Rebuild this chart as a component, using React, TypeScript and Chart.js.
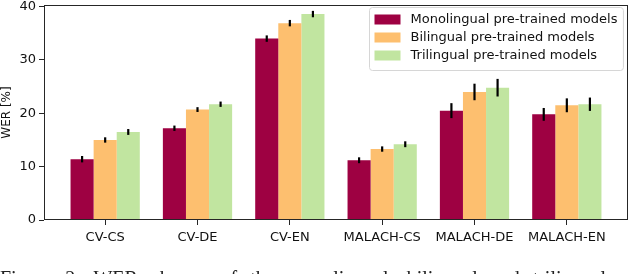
import React, { useEffect, useRef } from "react";
import { Chart, registerables } from "chart.js";

Chart.register(...registerables);

const categories = ["CV-CS", "CV-DE", "CV-EN", "MALACH-CS", "MALACH-DE", "MALACH-EN"];
const seriesLabels = [
  "Monolingual pre-trained models",
  "Bilingual pre-trained models",
  "Trilingual pre-trained models",
];
const monolingual = [11.4, 17.2, 34.0, 11.2, 20.5, 19.8];
const bilingual = [15.0, 20.7, 36.9, 13.3, 24.0, 21.5];
const trilingual = [16.5, 21.7, 38.6, 14.2, 24.8, 21.7];
const monolingualErr = [0.6, 0.5, 0.6, 0.55, 1.4, 1.2];
const bilingualErr = [0.5, 0.45, 0.6, 0.5, 1.55, 1.3];
const trilingualErr = [0.55, 0.5, 0.6, 0.55, 1.65, 1.25];
const yTicks = [0, 10, 20, 30, 40];
const yLabel = "WER [%]";
const caption = "Figure 2: WER change of the monolingual, bilingual and trilingual models";

const FONT = '"DejaVu Sans"';

const errorBarPlugin = {
  id: "errorBars",
  afterDatasetsDraw(chart: any) {
    const ctx = chart.ctx;
    const ys = chart.scales.y;
    chart.data.datasets.forEach((ds: any, di: number) => {
      const meta = chart.getDatasetMeta(di);
      meta.data.forEach((bar: any, i: number) => {
        const v = ds.data[i].y;
        const e = ds.errors[i];
        ctx.save();
        ctx.strokeStyle = "#000";
        ctx.lineWidth = 2.2;
        ctx.beginPath();
        ctx.moveTo(bar.x, ys.getPixelForValue(v - e));
        ctx.lineTo(bar.x, ys.getPixelForValue(v + e));
        ctx.stroke();
        ctx.restore();
      });
    });
  },
};

const framePlugin = {
  id: "frame",
  afterDatasetsDraw(chart: any) {
    const { left, right, top, bottom } = chart.chartArea;
    const ctx = chart.ctx;
    ctx.save();
    ctx.strokeStyle = "#262626";
    ctx.lineWidth = 1;
    const l = Math.round(left) + 0.5;
    const r = Math.round(right) - 0.5;
    const t = Math.round(top) + 0.5;
    const b = Math.round(bottom) - 0.5;
    ctx.strokeRect(l, t, r - l, b - t);
    ctx.restore();
  },
};

const legendPlugin = {
  id: "boxLegend",
  afterDraw(chart: any) {
    const ctx = chart.ctx;
    const { right, top } = chart.chartArea;
    ctx.save();
    ctx.font = `13px ${FONT}`;
    const datasets = chart.data.datasets;
    let maxW = 0;
    datasets.forEach((ds: any) => {
      maxW = Math.max(maxW, ctx.measureText(ds.label).width);
    });
    const padL = 5, swW = 26, swH = 10, gap = 10, padR = 6, rowH = 18;
    const boxW = padL + swW + gap + maxW + padR;
    const boxH = 63;
    const bx = Math.round(right - 5 - boxW) + 0.5;
    const by = Math.round(top + 2) + 0.5;
    const rad = 3;
    ctx.beginPath();
    ctx.moveTo(bx + rad, by);
    ctx.lineTo(bx + boxW - rad, by);
    ctx.arcTo(bx + boxW, by, bx + boxW, by + rad, rad);
    ctx.lineTo(bx + boxW, by + boxH - rad);
    ctx.arcTo(bx + boxW, by + boxH, bx + boxW - rad, by + boxH, rad);
    ctx.lineTo(bx + rad, by + boxH);
    ctx.arcTo(bx, by + boxH, bx, by + boxH - rad, rad);
    ctx.lineTo(bx, by + rad);
    ctx.arcTo(bx, by, bx + rad, by, rad);
    ctx.closePath();
    ctx.fillStyle = "rgba(255,255,255,0.8)";
    ctx.fill();
    ctx.strokeStyle = "#d6d6d6";
    ctx.lineWidth = 1;
    ctx.stroke();
    datasets.forEach((ds: any, i: number) => {
      const cy = by + 12 + rowH * i;
      ctx.fillStyle = ds.backgroundColor;
      ctx.fillRect(bx + padL, cy - swH / 2, swW, swH);
      ctx.fillStyle = "#111";
      ctx.textBaseline = "middle";
      ctx.textAlign = "left";
      ctx.fillText(ds.label, bx + padL + swW + gap, cy);
    });
    ctx.restore();
  },
};

export default function App() {
  const ref = useRef<HTMLCanvasElement | null>(null);

  useEffect(() => {
    if (!ref.current) return;
    const palette = ["#9e0142", "#fdbf6f", "#c1e5a0"];
    const series = [monolingual, bilingual, trilingual];
    const errs = [monolingualErr, bilingualErr, trilingualErr];
    const chart = new Chart(ref.current, {
      type: "bar",
      data: {
        datasets: series.map((vals, si) => ({
          label: seriesLabels[si],
          data: vals.map((v, i) => ({ x: i, y: v })),
          errors: errs[si],
          backgroundColor: palette[si],
          borderWidth: 0,
          categoryPercentage: 0.75,
          barPercentage: 1.0,
        })) as any,
      },
      options: {
        animation: false,
        responsive: false,
        devicePixelRatio: 1,
        layout: { padding: { left: 0, right: 2, top: 5, bottom: 0 } },
        plugins: {
          legend: { display: false },
          tooltip: { enabled: false },
        },
        scales: {
          x: {
            type: "linear",
            min: -0.6625,
            max: 5.6625,
            offset: false,
            afterBuildTicks: (scale: any) => {
              scale.ticks = categories.map((_, i) => ({ value: i }));
            },
            afterFit: (scale: any) => {
              scale.height = 54;
              scale.paddingLeft = 0;
              scale.paddingRight = 0;
            },
            border: { display: false },
            grid: {
              display: true,
              offset: false,
              drawOnChartArea: false,
              drawTicks: true,
              tickLength: 5,
              tickWidth: 1,
              tickColor: "#262626",
            },
            ticks: {
              autoSkip: false,
              maxRotation: 0,
              padding: 5,
              color: "#111",
              font: { family: FONT, size: 13 },
              callback: (v: any) => categories[Math.round(Number(v))] ?? "",
            },
          },
          y: {
            type: "linear",
            min: 0,
            max: 40.3,
            afterBuildTicks: (scale: any) => {
              scale.ticks = yTicks.map((v) => ({ value: v }));
            },
            afterFit: (scale: any) => {
              scale.width = 44;
              scale.paddingTop = 0;
              scale.paddingBottom = 0;
            },
            border: { display: false },
            grid: {
              display: true,
              offset: false,
              drawOnChartArea: false,
              drawTicks: true,
              tickLength: 5,
              tickWidth: 1,
              tickColor: "#262626",
            },
            ticks: {
              padding: 3,
              color: "#111",
              font: { family: FONT, size: 13 },
            },
            title: {
              display: true,
              text: yLabel,
              color: "#111",
              padding: { top: 0, bottom: 0 },
              font: { family: FONT, size: 12 },
            },
          },
        },
      },
      plugins: [errorBarPlugin, framePlugin, legendPlugin],
    } as any);
    return () => chart.destroy();
  }, []);

  return (
    <div style={{ position: "fixed", left: 0, top: 0, width: 630, height: 274, overflow: "hidden", background: "#fff" }}>
      <canvas ref={ref} width={630} height={274} style={{ display: "block", width: 630, height: 274 }} />
      <div
        style={{
          position: "absolute",
          left: 0,
          top: 267,
          width: 640,
          whiteSpace: "nowrap",
          fontFamily: '"Liberation Serif", serif',
          fontSize: 20,
          lineHeight: "23px",
          wordSpacing: 8,
          color: "#222",
        }}
      >
        {caption}
      </div>
    </div>
  );
}
